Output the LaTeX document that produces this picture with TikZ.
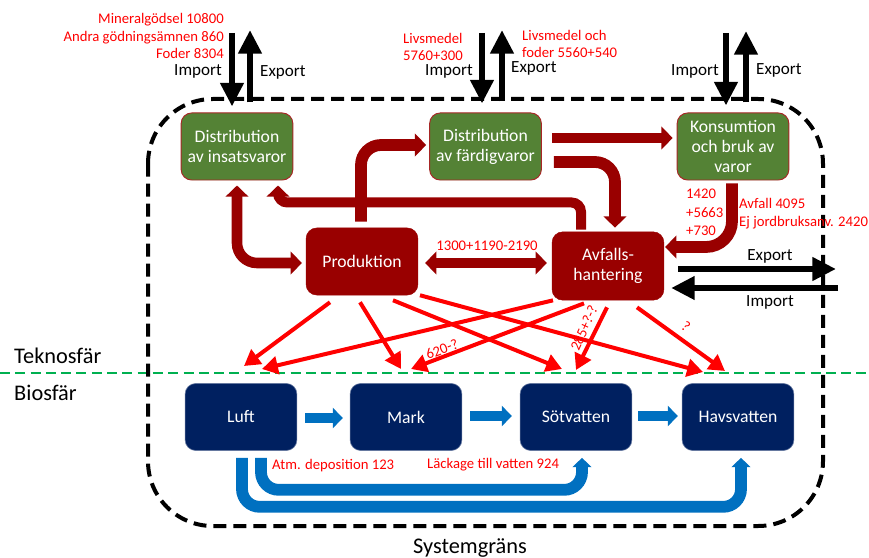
\documentclass[tikz,border=0pt]{standalone}
\usepackage{fontspec}
\setmainfont{Carlito}
\usetikzlibrary{arrows.meta,calc}
\definecolor{gbox}{HTML}{548235}
\definecolor{rbox}{HTML}{990000}
\definecolor{nbox}{HTML}{002060}
\definecolor{barr}{HTML}{0070C0}
\definecolor{rthin}{HTML}{FF0000}
\definecolor{gline}{HTML}{00B050}
\begin{document}
\begin{tikzpicture}[x=0.85pt,y=-0.85pt,
  box/.style={rounded corners=9pt, minimum width=95pt, minimum height=57pt, text=white, align=center, font=\fontsize{15}{17}\selectfont, inner sep=1pt},
  gbx/.style={box, fill=gbox, draw=rbox!85, line width=0.8pt},
  rbx/.style={box, fill=rbox, draw=rbox},
  nbx/.style={box, fill=nbox, draw=nbox!60!white, line width=0.5pt},
  tarr/.style={draw=rbox, line width=10pt, rounded corners=17pt, -{Triangle[width=19pt,length=9.5pt]}},
  tarrb/.style={draw=rbox, line width=8.5pt, rounded corners=8pt, -{Triangle[width=19pt,length=9.5pt]}},
  tboth/.style={draw=rbox, line width=9pt, rounded corners=17pt, {Triangle[width=19pt,length=9.5pt]}-{Triangle[width=19pt,length=9.5pt]}},
  rarr/.style={draw=rthin, line width=3.4pt, -{Triangle[width=15pt,length=13.5pt]}},
  barrs/.style={draw=barr, line width=8.5pt, -{Triangle[width=17pt,length=8.5pt]}},
  barrl/.style={draw=barr, line width=10pt, rounded corners=15pt, -{Triangle[width=16pt,length=8pt]}},
  karr/.style={draw=black, line width=5pt, -{Triangle[width=19pt,length=20pt]}},
  lbl/.style={font=\fontsize{14.5}{16}\selectfont, inner sep=0pt},
  rlbl/.style={text=rthin, font=\fontsize{12.5}{14.5}\selectfont, inner sep=0pt},
  big/.style={font=\fontsize{19}{21}\selectfont, inner sep=0pt}
]
\useasboundingbox (0,0) rectangle (869,558);

% sphere line
\draw[gline, line width=2.5pt, dash pattern=on 8.5pt off 4.5pt] (0,373) -- (869,373);
\node[big, anchor=west] (tek) at (14,356) {Teknosfär};
\node[big, anchor=west] (bio) at (14,393) {Biosfär};

% system boundary
\draw[line width=3.4pt, dash pattern=on 11pt off 6pt, rounded corners=55pt] (148,99) rectangle (823,526);
\node[big] (sys) at (470,548) {Systemgräns};

% boxes
\node[gbx] (di) at (237,146.5) {Distribution\\av insatsvaror};
\node[gbx] (df) at (485.5,146.5) {Distribution\\av färdigvaror};
\node[gbx] (ko) at (733,146.5) {Konsumtion\\och bruk av\\varor};
\node[rbx] (pr) at (362,261.5) {Produktion};
\node[rbx, minimum height=58pt] (av) at (608,266) {Avfalls-\\hantering};
\node[nbx] (lu) at (241,417) {Luft};
\node[nbx] (mk) at (406,417) {Mark};
\node[nbx] (sv) at (576,417) {Sötvatten};
\node[nbx] (hv) at (738,417) {Havsvatten};

% tips of thin red arrows
\coordinate (tLa) at (244,366);
\coordinate (tLb) at (262,369);
\coordinate (tMa) at (401,369);
\coordinate (tMb) at (411,369);
\coordinate (tSa) at (562,369);
\coordinate (tSb) at (576,370);
\coordinate (tHa) at (703,372);
\coordinate (tHb) at (725,371);

% thin red arrows
\draw[rarr] ($(pr.south)+(-32,7)$) -- (tLa);
\draw[rarr] ($(pr.south)+(-2,7)$) -- (tMa);
\draw[rarr] ($(pr.south)+(31,5)$) -- (tSa);
\draw[rarr] ($(pr.south)+(58,0)$) -- (tHa);
\draw[rarr] ($(av.south)+(-55,0)$) -- (tLb);
\draw[rarr] ($(av.south)+(-24,3)$) -- (tMb);
\draw[rarr] ($(av.south)+(-1,7)$) -- (tSb);
\draw[rarr] ($(av.south)+(29,7)$) -- (tHb);
\node[rlbl, rotate=21] (l620) at (442,349) {620-?};
\node[rlbl, rotate=66] (l285) at (584,328) {285+?-?};
\node[rlbl, rotate=-36] (lq) at (686,326) {?};

% thick red arrows
\draw[tboth] ($(di.south)+(0,5)$) |- ($(pr.west)+(-4,1.5)$);
\draw[tarr] ($(pr.north)+(-1,-6)$) |- ($(df.west)+(-3,-1.5)$);
\draw[tarrb] ($(av.north)+(-27,-2)$) |- ($(di.south)+(41,22)$) -- ($(di.south)+(41,5)$);
\draw[tarr] ($(df.east)+(12,15.5)$) -| ($(av.north)+(7,-4)$);
\draw[tarrb, rounded corners=0pt] ($(df.east)+(10,-8.5)$) -- ($(ko.west)+(-4,-8.5)$);
\draw[tarr, rounded corners=22pt] ($(ko.south)+(-1,3)$) |- ($(av.east)+(1,-19)$);
\draw[tboth] ($(pr.east)+(7,1.5)$) -- ($(av.west)+(-5,-3)$);
\node[rlbl] (l1300) at (487,246) {1300+1190-2190};
\node[rlbl, anchor=west, align=left, font=\fontsize{12.5}{15.7}\selectfont] (l1420) at (686,212.5) {1420\\+5663\\+730};
\node[rlbl, anchor=west, align=left, font=\fontsize{12.5}{15.5}\selectfont] (lavf) at (739,214) {Avfall 4095\\Ej jordbruksanv. 2420};

% blue arrows
\draw[barrs] ($(lu.east)+(8,1)$) -- ($(mk.west)+(-7,1)$);
\draw[barrs] ($(mk.east)+(8,-1)$) -- ($(sv.west)+(-8,-1)$);
\draw[barrs] ($(sv.east)+(6,-1)$) -- ($(hv.west)+(-4,-1)$);
\draw[barrl] ($(lu.south)+(1,7)$) |- ($(hv.south)+(3,56)$) -- ($(hv.south)+(3,7)$);
\draw[barrl] ($(lu.south)+(20,7)$) |- ($(sv.south)+(6,39)$) -- ($(sv.south)+(6,7)$);
\node[rlbl, anchor=west] (latm) at (272,466) {Atm. deposition 123};
\node[rlbl, anchor=west] (llack) at (427,465) {Läckage till vatten 924};

% import/export top
\coordinate (i1) at (232,33);
\coordinate (e1) at (250,30);
\draw[karr] (i1) -- ($(di.north)+(-5,-6)$);
\draw[karr] ($(di.north)+(13,-10)$) -- (e1);
\node[lbl, anchor=east] (imp1) at (222,71) {Import};
\node[lbl, anchor=west] (exp1) at (260,72) {Export};
\node[rlbl, anchor=east, align=right] (lmin) at (224,36) {Mineralgödsel 10800\\Andra gödningsämnen 860\\Foder 8304};

\coordinate (i2) at (482,33);
\coordinate (e2) at (502,30);
\draw[karr] (i2) -- ($(df.north)+(-3.5,-9)$);
\draw[karr] ($(df.north)+(16.5,-11)$) -- (e2);
\node[lbl, anchor=east] (imp2) at (473,71) {Import};
\node[lbl, anchor=west] (exp2) at (511,68) {Export};
\node[rlbl, anchor=west, align=left] (lliv1) at (403,46.5) {Livsmedel\\5760+300};
\node[rlbl, anchor=west, align=left] (lliv2) at (522,43.5) {Livsmedel och\\foder 5560+540};

\coordinate (i3) at (726,33);
\coordinate (e3) at (746,31);
\draw[karr] (i3) -- ($(ko.north)+(-7,-7)$);
\draw[karr] ($(ko.north)+(13,-10)$) -- (e3);
\node[lbl, anchor=east] (imp3) at (719,71) {Import};
\node[lbl, anchor=west] (exp3) at (756,70) {Export};

% import/export right
\coordinate (e4) at (836,269);
\coordinate (i4) at (838,288);
\draw[karr] ($(av.east)+(14,3)$) -- (e4);
\draw[karr] (i4) -- ($(av.east)+(7,22)$);
\node[lbl] (exp4) at (770,256) {Export};
\node[lbl] (imp4) at (770,302) {Import};
\end{tikzpicture}
\end{document}
